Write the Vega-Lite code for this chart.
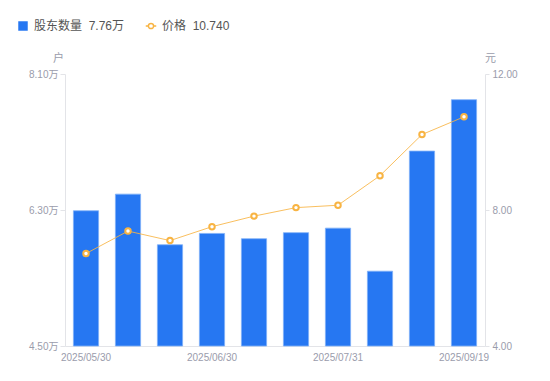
{
  "$schema": "https://vega.github.io/schema/vega-lite/v6.json",
  "width": 420,
  "height": 272,
  "autosize": "none",
  "padding": {"left": 65, "top": 74, "right": 65, "bottom": 35},
  "config": {
    "view": {"stroke": null},
    "font": "Liberation Sans, Noto Sans CJK SC, sans-serif",
    "axis": {"labelFont": "Liberation Sans, Noto Sans CJK SC, sans-serif", "labelColor": "#9a9cab", "labelFontSize": 10, "domainColor": "#e3e4e8", "tickColor": "#e3e4e8", "grid": false, "titleFont": "Noto Sans CJK SC", "titleFontWeight": "normal", "titleColor": "#9a9cab", "titleFontSize": 11}
  },
  "data": {"values": [
    {"date": "2025/05/30", "holders": 6.29, "price": 6.72},
    {"date": "2025/06/10", "holders": 6.51, "price": 7.38},
    {"date": "2025/06/20", "holders": 5.84, "price": 7.10},
    {"date": "2025/06/30", "holders": 5.99, "price": 7.51},
    {"date": "2025/07/10", "holders": 5.92, "price": 7.82},
    {"date": "2025/07/20", "holders": 6.00, "price": 8.07},
    {"date": "2025/07/31", "holders": 6.06, "price": 8.14},
    {"date": "2025/08/20", "holders": 5.49, "price": 9.01},
    {"date": "2025/08/31", "holders": 7.08, "price": 10.22},
    {"date": "2025/09/19", "holders": 7.76, "price": 10.74}
  ]},
  "encoding": {
    "x": {"field": "date", "type": "ordinal", "sort": null,
      "scale": {"paddingInner": 0.4, "paddingOuter": 0.2},
      "axis": {"title": null, "labelAngle": 0, "ticks": false, "labelPadding": 6, "values": ["2025/05/30", "2025/06/30", "2025/07/31", "2025/09/19"]}}
  },
  "layer": [
    {
      "mark": {"type": "bar", "stroke": "#7fb0f7", "strokeWidth": 0.8},
      "encoding": {
        "y": {"field": "holders", "type": "quantitative",
          "scale": {"domain": [4.5, 8.1], "zero": false, "nice": false},
          "axis": {"orient": "left", "values": [4.5, 6.3, 8.1], "labelExpr": "format(datum.value, '.2f') + '万'", "tickSize": 5, "labelPadding": 2,
            "title": "户", "titleAngle": 0, "titleX": -7, "titleY": -13, "titleAlign": "center", "titleBaseline": "alphabetic"}},
        "y2": {"datum": 4.5},
        "fill": {"datum": "股东数量", "scale": {"range": ["#2677f2"]},
          "legend": {"orient": "none", "legendX": -48, "legendY": -54, "title": null, "symbolType": "square", "symbolSize": 90, "symbolStrokeWidth": 0,
            "labelExpr": "'股东数量\u00a0\u00a07.76万'", "labelFontSize": 12, "labelColor": "#555", "labelFont": "Liberation Sans, Noto Sans CJK SC, sans-serif", "labelOffset": 5}}
      }
    },
    {
      "encoding": {
        "y": {"field": "price", "type": "quantitative",
          "scale": {"domain": [4, 12], "zero": false, "nice": false},
          "axis": {"orient": "right", "values": [4, 8, 12], "format": ".2f", "tickSize": 4, "labelPadding": 3,
            "title": "元", "titleAngle": 0, "titleX": 5, "titleY": -13, "titleAlign": "center", "titleBaseline": "alphabetic"}},
        "stroke": {"datum": "价格", "scale": {"range": ["#f8b443"]},
          "legend": {"orient": "none", "legendX": 80, "legendY": -54, "title": null,
            "symbolType": "M-1,0L-0.5,0M0.5,0L1,0M0.5,0A0.5,0.5,0,1,1,-0.5,0A0.5,0.5,0,1,1,0.5,0", "symbolSize": 110, "symbolStrokeWidth": 1.5, "symbolFillColor": "white",
            "labelExpr": "'价格\u00a0\u00a010.740'", "labelFontSize": 12, "labelColor": "#555", "labelFont": "Liberation Sans, Noto Sans CJK SC, sans-serif", "labelOffset": 5}}
      },
      "layer": [
        {"mark": {"type": "line", "strokeWidth": 1, "strokeOpacity": 0.85}},
        {"mark": {"type": "point", "filled": true, "fill": "white", "strokeWidth": 2, "size": 30, "opacity": 1}}
      ]
    }
  ],
  "resolve": {"scale": {"y": "independent"}}
}
